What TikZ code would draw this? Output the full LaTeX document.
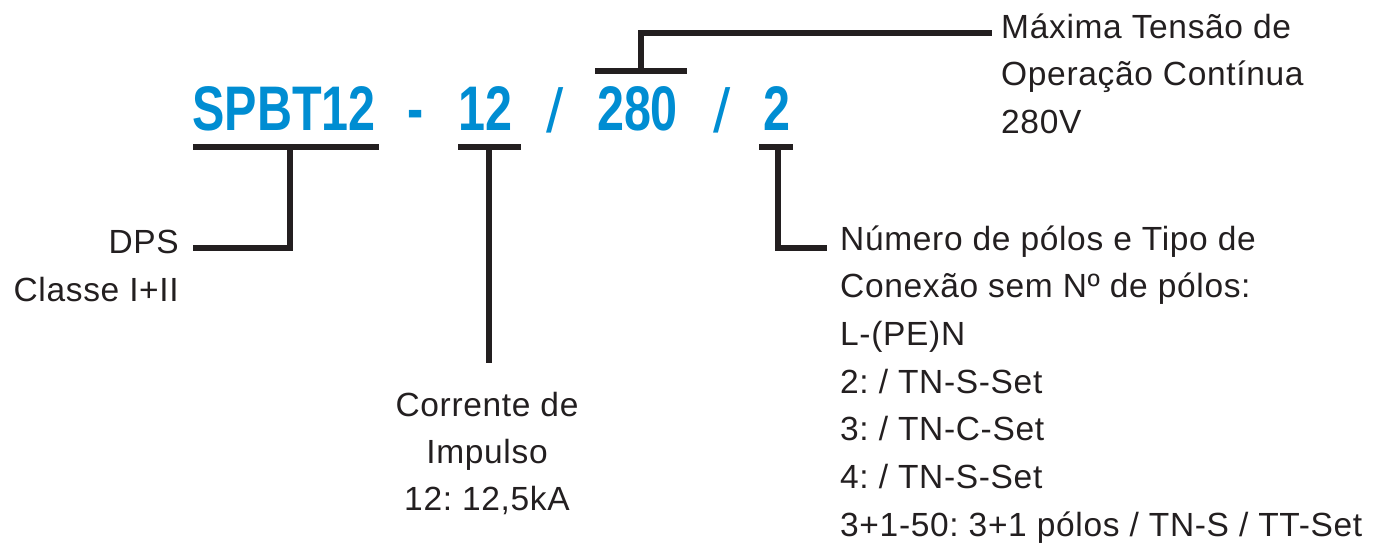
\documentclass[tikz,border=0pt]{standalone}
\usepackage{fontspec}
\usepackage{graphicx}
\setmainfont{Liberation Sans}
\newfontfamily\lblfont{Liberation Sans}[LetterSpace=2]
\frenchspacing
\definecolor{codeblue}{RGB}{0,141,210}
\definecolor{ink}{RGB}{35,31,32}
\definecolor{txt}{RGB}{35,31,32}
\newcommand{\codepart}[1]{\scalebox{0.77}[1]{\fontsize{63}{70}\selectfont\bfseries #1}}
\tikzset{
  codetxt/.style={inner sep=0pt, text=codeblue, anchor=base},
  slashtxt/.style={inner sep=0pt, text=codeblue, anchor=base, font=\fontsize{62}{70}\selectfont},
  lbl/.style={inner sep=0pt, text=txt, font=\lblfont\fontsize{33.5}{40}\selectfont},
  lead/.style={draw=ink, line width=6pt, line join=miter, line cap=butt},
}
\begin{document}
\begin{tikzpicture}[x=1pt,y=-1pt]
\useasboundingbox (0,0) rectangle (1375,544);

% product code
\node[codetxt] (c1) at (284,130) {\codepart{SPBT12}};
\node[codetxt] (c2) at (415.5,130) {\codepart{-}};
\node[codetxt] (c3) at (485.5,130) {\codepart{12}};
\node[slashtxt] (c4) at (555,132) {/};
\node[codetxt] (c5) at (637.5,130) {\codepart{280}};
\node[slashtxt] (c6) at (722.5,132) {/};
\node[codetxt] (c7) at (776.5,130) {\codepart{2}};

% bracket bars
\coordinate (b1l) at (193,147); \coordinate (b1r) at (379,147); \coordinate (k1) at (290,147);
\coordinate (b2l) at (458,147); \coordinate (b2r) at (521,147); \coordinate (k2) at (489,147);
\coordinate (b3l) at (595,71);  \coordinate (b3r) at (687,71);  \coordinate (k3) at (641,71);
\coordinate (b4l) at (759,147); \coordinate (b4r) at (793,147); \coordinate (k4) at (778,147);

% free ends of the leaders
\coordinate (e1) at (193,248);
\coordinate (e2) at (489,363);
\coordinate (e3) at (992,33);
\coordinate (e4) at (827,248);

\draw[lead] (b1l) -- (b1r);
\draw[lead] (b2l) -- (b2r);
\draw[lead] (b3l) -- (b3r);
\draw[lead] (b4l) -- (b4r);

\draw[lead] (k1) |- (e1);
\draw[lead] (k2) -- (e2);
\draw[lead] (k3) |- (e3);
\draw[lead] (k4) |- (e4);

% labels: class
\node[lbl, anchor=base east] (dps) at (179,253) {DPS};
\node[lbl, anchor=base east] (cls) at (179,301) {Classe I+II};

% labels: impulse current
\node[lbl, anchor=base] (i1) at (487,416) {Corrente de};
\node[lbl, anchor=base] (i2) at (487,463) {Impulso};
\node[lbl, anchor=base] (i3) at (487,510) {12: 12,5kA};

% labels: maximum voltage
\node[lbl, anchor=base west] (v1) at (1001,38) {Máxima Tensão de};
\node[lbl, anchor=base west] (v2) at (1001,85.5) {Operação Contínua};
\node[lbl, anchor=base west] (v3) at (1001,133) {280V};

% labels: poles and connection type
\node[lbl, anchor=base west] (p1) at (840,250) {Número de pólos e Tipo de};
\node[lbl, anchor=base west] (p2) at (840,297.7) {Conexão sem Nº de pólos:};
\node[lbl, anchor=base west] (p3) at (840,345.4) {L-(PE)N};
\node[lbl, anchor=base west] (p4) at (840,393) {2: / TN-S-Set};
\node[lbl, anchor=base west] (p5) at (840,440.8) {3: / TN-C-Set};
\node[lbl, anchor=base west] (p6) at (840,488.5) {4: / TN-S-Set};
\node[lbl, anchor=base west] (p7) at (840,536) {3+1-50: 3+1 pólos / TN-S / TT-Set};
\end{tikzpicture}
\end{document}
